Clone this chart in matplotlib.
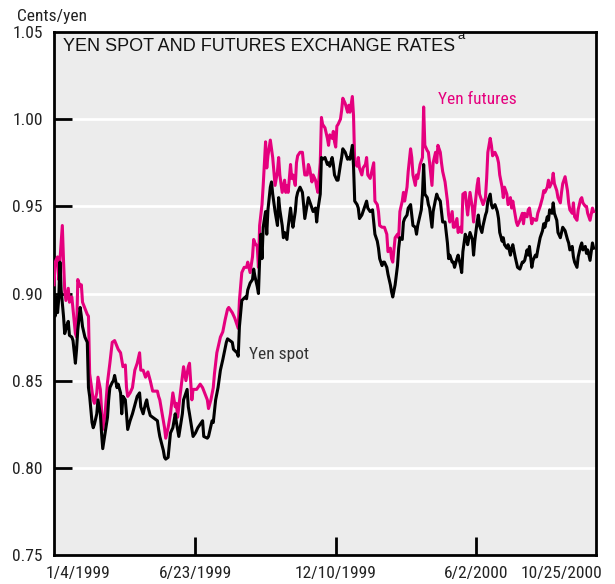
import matplotlib
matplotlib.use("Agg")
import matplotlib.pyplot as plt
from matplotlib import font_manager as fm
import matplotlib.transforms as mtransforms

# ---- data (trading-day index from 1/4/1999, cents per yen) ----
futures_idx = [0, 1, 3, 4, 5, 7, 8, 9, 10, 12, 13, 15, 16, 18, 19, 20, 22, 23, 24, 28, 29, 30, 33, 34, 36, 37,
               39, 41, 43, 45, 47, 49, 51, 54, 56, 58, 60, 61, 62, 64, 66, 68, 70, 72, 73, 75, 77, 79, 81, 83,
               87, 88, 89, 91, 93, 94, 96, 98, 100, 102, 103, 104, 106, 108, 109, 111, 113, 114, 116, 117, 120,
               123, 125, 129, 130, 132, 134, 135, 137, 140, 142, 144, 146, 147, 150, 152, 155, 156, 158, 160,
               162, 163, 165, 167, 168, 169, 171, 172, 173, 175, 176, 178, 179, 180, 182, 183, 184, 186, 188,
               189, 190, 192, 194, 195, 196, 197, 199, 200, 201, 203, 204, 205, 207, 209, 210, 211, 213, 214,
               215, 217, 218, 220, 221, 222, 224, 225, 226, 228, 230, 231, 232, 234, 235, 236, 237, 238, 239,
               241, 242, 243, 245, 247, 248, 249, 251, 252, 253, 255, 256, 257, 259, 260, 262, 263, 264, 266,
               268, 269, 270, 272, 273, 274, 276, 278, 280, 281, 283, 284, 285, 287, 289, 290, 291, 293, 294,
               295, 297, 298, 300, 301, 302, 304, 305, 306, 308, 310, 311, 312, 314, 315, 316, 318, 319, 321,
               322, 323, 325, 326, 327, 329, 331, 332, 333, 335, 336, 337, 339, 340, 342, 343, 344, 346, 347,
               348, 350, 352, 353, 354, 356, 357, 358, 360, 361, 363, 364, 365, 367, 368, 369, 371, 373, 374,
               375, 377, 378, 379, 381, 382, 384, 385, 386, 388, 389, 390, 392, 394, 395, 396, 398, 399, 400,
               402, 403, 405, 406, 407, 409, 411, 412, 413, 415, 416, 417, 419, 420, 421, 423, 424, 426, 427,
               428, 430, 432, 433, 434, 436, 437, 438, 440, 441, 443, 444, 445, 447, 448, 449, 451, 453, 454]
futures_val = [0.905, 0.918, 0.921, 0.908, 0.919, 0.939, 0.919, 0.902, 0.896, 0.903, 0.895, 0.898, 0.891,
               0.877, 0.875, 0.908, 0.904, 0.905, 0.895, 0.888, 0.887, 0.854, 0.839, 0.837, 0.843, 0.852,
               0.845, 0.822, 0.831, 0.849, 0.860, 0.872, 0.873, 0.868, 0.866, 0.858, 0.859, 0.846, 0.841,
               0.843, 0.846, 0.856, 0.860, 0.866, 0.856, 0.856, 0.852, 0.855, 0.850, 0.844, 0.844, 0.841,
               0.839, 0.831, 0.823, 0.817, 0.823, 0.831, 0.843, 0.835, 0.837, 0.829, 0.841, 0.852, 0.858,
               0.850, 0.858, 0.860, 0.839, 0.845, 0.845, 0.848, 0.846, 0.839, 0.834, 0.839, 0.846, 0.854,
               0.866, 0.875, 0.878, 0.885, 0.891, 0.892, 0.889, 0.886, 0.880, 0.896, 0.912, 0.915, 0.915,
               0.918, 0.912, 0.921, 0.931, 0.929, 0.927, 0.915, 0.939, 0.951, 0.962, 0.987, 0.972, 0.979,
               0.988, 0.983, 0.978, 0.962, 0.970, 0.978, 0.968, 0.958, 0.965, 0.958, 0.962, 0.958, 0.974,
               0.966, 0.968, 0.962, 0.975, 0.979, 0.981, 0.981, 0.974, 0.968, 0.968, 0.974, 0.972, 0.964,
               0.968, 0.965, 0.961, 0.958, 0.975, 1.001, 0.997, 0.995, 0.989, 0.985, 0.991, 0.989, 0.993,
               0.987, 0.984, 0.996, 0.997, 1.000, 1.005, 1.012, 1.009, 1.004, 1.008, 1.004, 1.013, 1.002,
               0.975, 0.973, 0.978, 0.972, 0.968, 0.972, 0.974, 0.978, 0.968, 0.966, 0.972, 0.975, 0.953,
               0.951, 0.947, 0.939, 0.938, 0.938, 0.934, 0.924, 0.926, 0.920, 0.918, 0.932, 0.934, 0.932,
               0.947, 0.953, 0.958, 0.953, 0.961, 0.970, 0.983, 0.978, 0.968, 0.962, 0.968, 0.966, 0.974,
               0.978, 1.007, 0.985, 0.982, 0.981, 0.975, 0.962, 0.975, 0.981, 0.975, 0.985, 0.981, 0.975,
               0.970, 0.964, 0.953, 0.945, 0.941, 0.947, 0.938, 0.938, 0.943, 0.935, 0.938, 0.935, 0.957,
               0.958, 0.951, 0.945, 0.958, 0.949, 0.941, 0.949, 0.962, 0.966, 0.957, 0.953, 0.951, 0.955,
               0.966, 0.981, 0.989, 0.985, 0.979, 0.981, 0.978, 0.975, 0.968, 0.961, 0.955, 0.961, 0.957,
               0.951, 0.955, 0.949, 0.953, 0.945, 0.941, 0.939, 0.942, 0.946, 0.940, 0.946, 0.944, 0.948,
               0.949, 0.940, 0.943, 0.942, 0.942, 0.946, 0.950, 0.955, 0.959, 0.958, 0.961, 0.965, 0.961,
               0.964, 0.969, 0.963, 0.959, 0.955, 0.952, 0.958, 0.963, 0.967, 0.959, 0.952, 0.948, 0.946,
               0.952, 0.944, 0.942, 0.948, 0.954, 0.955, 0.952, 0.950, 0.950, 0.946, 0.942, 0.949, 0.947]

spot_idx = [0, 1, 2, 3, 4, 5, 6, 8, 9, 11, 12, 13, 15, 16, 18, 19, 20, 22, 23, 24, 26, 28, 29, 30, 32, 33, 34,
            36, 37, 39, 40, 41, 43, 45, 46, 47, 49, 50, 51, 53, 54, 56, 57, 58, 60, 61, 62, 64, 66, 70, 72, 73,
            75, 77, 78, 79, 81, 83, 87, 88, 89, 92, 93, 94, 96, 98, 100, 102, 103, 105, 108, 109, 112, 113, 114,
            117, 119, 121, 125, 126, 129, 130, 133, 134, 136, 138, 140, 142, 145, 146, 150, 151, 154, 155, 156,
            158, 161, 162, 163, 165, 167, 168, 169, 171, 172, 173, 174, 175, 176, 178, 179, 180, 182, 183, 184,
            186, 188, 189, 190, 192, 193, 194, 196, 197, 199, 200, 201, 203, 204, 205, 207, 209, 210, 211, 213,
            214, 215, 217, 218, 220, 221, 222, 224, 225, 226, 228, 230, 231, 232, 234, 235, 236, 238, 239, 241,
            242, 243, 245, 247, 248, 249, 251, 252, 253, 255, 256, 257, 259, 260, 262, 263, 264, 266, 268, 269,
            270, 272, 273, 274, 276, 277, 278, 280, 281, 283, 284, 285, 287, 289, 290, 291, 293, 294, 295, 297,
            298, 300, 301, 302, 304, 305, 306, 308, 309, 310, 311, 312, 314, 315, 316, 318, 319, 321, 322, 323,
            325, 326, 327, 329, 331, 332, 333, 335, 336, 337, 339, 340, 342, 343, 344, 346, 347, 348, 350, 352,
            353, 354, 356, 357, 358, 360, 361, 363, 364, 365, 367, 368, 369, 371, 373, 374, 375, 377, 378, 379,
            381, 382, 384, 385, 386, 388, 389, 390, 392, 394, 395, 396, 398, 399, 400, 402, 403, 405, 406, 407,
            409, 411, 412, 413, 415, 416, 417, 419, 420, 421, 423, 424, 426, 427, 428, 430, 432, 433, 434, 436,
            437, 438, 440, 441, 443, 444, 445, 447, 448, 449, 451, 453, 454]
spot_val = [0.893, 0.887, 0.898, 0.889, 0.897, 0.918, 0.902, 0.887, 0.877, 0.882, 0.884, 0.876, 0.875, 0.873,
            0.860, 0.868, 0.879, 0.892, 0.887, 0.881, 0.875, 0.872, 0.846, 0.841, 0.826, 0.823, 0.825, 0.831,
            0.839, 0.831, 0.820, 0.811, 0.820, 0.829, 0.839, 0.846, 0.849, 0.850, 0.853, 0.846, 0.848, 0.843,
            0.831, 0.841, 0.839, 0.831, 0.822, 0.827, 0.831, 0.841, 0.843, 0.835, 0.831, 0.837, 0.839, 0.835,
            0.830, 0.829, 0.827, 0.822, 0.818, 0.810, 0.806, 0.805, 0.806, 0.820, 0.823, 0.831, 0.826, 0.818,
            0.831, 0.839, 0.845, 0.835, 0.831, 0.818, 0.820, 0.823, 0.827, 0.818, 0.817, 0.818, 0.827, 0.826,
            0.839, 0.846, 0.856, 0.862, 0.872, 0.874, 0.872, 0.868, 0.866, 0.864, 0.881, 0.896, 0.898, 0.897,
            0.902, 0.906, 0.908, 0.914, 0.910, 0.904, 0.900, 0.919, 0.934, 0.920, 0.938, 0.947, 0.934, 0.948,
            0.961, 0.964, 0.957, 0.947, 0.939, 0.955, 0.948, 0.939, 0.932, 0.935, 0.931, 0.938, 0.949, 0.943,
            0.938, 0.947, 0.955, 0.958, 0.961, 0.958, 0.951, 0.943, 0.951, 0.955, 0.953, 0.949, 0.947, 0.949,
            0.941, 0.948, 0.957, 0.978, 0.977, 0.978, 0.974, 0.975, 0.973, 0.978, 0.974, 0.968, 0.965, 0.965,
            0.974, 0.978, 0.983, 0.981, 0.977, 0.978, 0.977, 0.985, 0.973, 0.953, 0.951, 0.949, 0.943, 0.945,
            0.947, 0.951, 0.953, 0.949, 0.947, 0.948, 0.941, 0.934, 0.930, 0.926, 0.920, 0.916, 0.918, 0.918,
            0.915, 0.911, 0.905, 0.901, 0.898, 0.905, 0.916, 0.926, 0.932, 0.931, 0.941, 0.943, 0.945, 0.949,
            0.951, 0.945, 0.939, 0.938, 0.934, 0.939, 0.945, 0.948, 0.957, 0.974, 0.957, 0.955, 0.951, 0.949,
            0.938, 0.947, 0.954, 0.957, 0.955, 0.953, 0.947, 0.941, 0.941, 0.929, 0.920, 0.922, 0.918, 0.918,
            0.915, 0.920, 0.922, 0.916, 0.912, 0.924, 0.934, 0.932, 0.928, 0.935, 0.931, 0.922, 0.930, 0.941,
            0.945, 0.939, 0.935, 0.939, 0.945, 0.947, 0.953, 0.957, 0.951, 0.949, 0.951, 0.947, 0.943, 0.935,
            0.930, 0.932, 0.928, 0.926, 0.928, 0.922, 0.926, 0.928, 0.921, 0.918, 0.915, 0.914, 0.918, 0.918,
            0.919, 0.925, 0.922, 0.927, 0.915, 0.919, 0.922, 0.921, 0.925, 0.932, 0.936, 0.940, 0.938, 0.944,
            0.942, 0.948, 0.946, 0.952, 0.946, 0.942, 0.935, 0.932, 0.935, 0.938, 0.936, 0.931, 0.929, 0.925,
            0.927, 0.921, 0.918, 0.915, 0.921, 0.927, 0.929, 0.925, 0.927, 0.923, 0.925, 0.919, 0.929, 0.926]

x_tick_pos = [0, 119, 237, 355, 456]
x_tick_labels = ["1/4/1999", "6/23/1999", "12/10/1999", "6/2/2000", "10/25/2000"]
y_ticks = [0.75, 0.80, 0.85, 0.90, 0.95, 1.00, 1.05]
y_tick_labels = ["0.75", "0.80", "0.85", "0.90", "0.95", "1.00", "1.05"]

# ---- fonts ----
names = {f.name for f in fm.fontManager.ttflist}
narrow = "DejaVu Sans"
for cand in ["Liberation Sans Narrow", "Nimbus Sans Narrow", "Roboto Condensed", "Open Sans Condensed",
             "Archivo Narrow", "Asap Condensed", "Barlow Condensed"]:
    if cand in names:
        narrow = cand
        break
regular = "Liberation Sans" if "Liberation Sans" in names else "DejaVu Sans"

MAGENTA = "#e5007e"
TXT = "#222222"
fig = plt.figure(figsize=(6.15, 5.84), dpi=100)
ax = fig.add_axes([54 / 615, 1 - 555 / 584, 542 / 615, 523 / 584])
ax.set_facecolor("#ececec")

for y in y_ticks[1:-1]:
    ax.axhline(y, color="white", lw=2.0, zorder=1)

ax.plot(futures_idx, futures_val, color=MAGENTA, lw=2.2, zorder=3, solid_joinstyle="round")
ax.plot(spot_idx, spot_val, color="black", lw=2.2, zorder=4, solid_joinstyle="round")

ax.set_xlim(0, 456)
ax.set_ylim(0.75, 1.05)

for s in ax.spines.values():
    s.set_linewidth(2.0)
    s.set_color("black")

ax.set_yticks(y_ticks)
ax.set_yticklabels(y_tick_labels, fontfamily=narrow, fontsize=12.5, color=TXT)
ax.tick_params(axis="y", direction="in", length=13, width=2, pad=8)
ax.set_xticks(x_tick_pos)
ax.set_xticklabels(x_tick_labels, fontfamily=narrow, fontsize=12.5, color=TXT)
ax.tick_params(axis="x", direction="in", length=13, width=2, pad=8)

xl = ax.get_xticklabels()
xl[0].set_ha("left")
xl[0].set_transform(xl[0].get_transform() + mtransforms.ScaledTranslation(-8 / 100, 0, fig.dpi_scale_trans))
xl[-1].set_ha("right")
xl[-1].set_transform(xl[-1].get_transform() + mtransforms.ScaledTranslation(6 / 100, 0, fig.dpi_scale_trans))
for t in (ax.xaxis.get_major_ticks()[0], ax.xaxis.get_major_ticks()[-1]):
    t.tick1line.set_visible(False)
for t in (ax.yaxis.get_major_ticks()[0], ax.yaxis.get_major_ticks()[-1]):
    t.tick1line.set_visible(False)

fig.text(17 / 615, 1 - 16 / 584, "Cents/yen", fontfamily=narrow, fontsize=12.5,
         color=TXT, ha="left", va="center")

title = ax.text(0.0166, 0.973, "YEN SPOT AND FUTURES EXCHANGE RATES", transform=ax.transAxes,
                fontfamily=regular, fontsize=13, color="#111111", ha="left", va="center", zorder=6)
ax.annotate("a", xy=(1, 0.72), xycoords=title, xytext=(2, 0), textcoords="offset points",
            fontfamily=regular, fontsize=9.5, color="#111111", ha="left", va="bottom")

ax.text(323, 1.011, "Yen futures", fontfamily=narrow, fontsize=12.5, color=MAGENTA,
        ha="left", va="center", zorder=6)
ax.text(164, 0.865, "Yen spot", fontfamily=narrow, fontsize=12.5, color="#333333",
        ha="left", va="center", zorder=6)

fig.savefig("out.png", dpi=100, facecolor="white")
